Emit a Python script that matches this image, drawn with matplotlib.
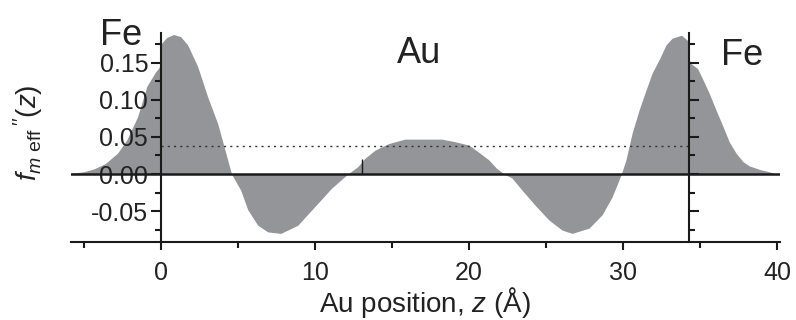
import matplotlib
matplotlib.use("Agg")
import matplotlib.pyplot as plt
from matplotlib.ticker import MultipleLocator

plt.rcParams['font.family'] = ['Liberation Sans', 'DejaVu Sans']
plt.rcParams['mathtext.fontset'] = 'custom'
plt.rcParams['mathtext.rm'] = 'Liberation Sans'
plt.rcParams['mathtext.it'] = 'Liberation Sans:italic'

# effective magnetic scattering profile
z = [-5.8, -5.0, -4.35, -3.6, -2.8, -2.2, -1.5, -0.9, -0.35, -0.05,
     0.05, 0.4, 0.85, 1.3, 1.75, 2.4, 3.05, 3.7, 4.1, 4.6,
     5.2, 5.65, 6.3, 6.95, 7.8, 8.9, 10.0, 11.1, 12.15, 12.8,
     13.25, 13.9, 14.8, 15.85, 16.9, 17.6, 18.25, 19.1, 20.0, 20.6,
     21.3, 21.8, 22.3, 22.8, 23.45, 24.3, 25.2, 26.05, 26.7, 27.8,
     28.65, 29.3, 29.75, 29.9, 30.2, 30.6, 31.05, 31.5, 31.9, 32.4,
     32.8, 33.2, 33.8, 34.2, 34.35, 34.85, 35.2, 35.6, 36.05, 36.5,
     36.9, 37.35, 37.8, 38.2, 38.9, 39.5, 40.0]
f_eff = [0.001, 0.003, 0.0067, 0.014, 0.028, 0.046, 0.077, 0.118, 0.137, 0.145,
         0.176, 0.184, 0.188, 0.185, 0.174, 0.145, 0.104, 0.068, 0.038, 0.0,
         -0.022, -0.048, -0.069, -0.078, -0.080, -0.069, -0.044, -0.019, 0.0, 0.010,
         0.021, 0.032, 0.041, 0.047, 0.047, 0.047, 0.047, 0.0435, 0.039, 0.030,
         0.019, 0.0077, 0.0, -0.0054, -0.0216, -0.042, -0.062, -0.0755, -0.080, -0.073,
         -0.055, -0.031, -0.008, 0.0, 0.019, 0.055, 0.086, 0.113, 0.136, 0.156,
         0.174, 0.183, 0.187, 0.180, 0.150, 0.142, 0.127, 0.109, 0.086, 0.064,
         0.0435, 0.028, 0.0166, 0.011, 0.006, 0.003, 0.0]

fe_au_left = 0.0
au_fe_right = 34.3
avg_level = 0.038
marker_z = 13.1
marker_top = 0.020

fig = plt.figure(figsize=(7.96, 3.2), dpi=100)
ax = fig.add_axes([0.0886, 0.2447, 0.8913, 0.6522])

ax.fill_between(z, f_eff, 0, color='#939598', linewidth=0, zorder=1)
ax.axhline(0, color='#1a1a1a', lw=1.8, zorder=2)
ax.hlines(avg_level, fe_au_left, au_fe_right, colors='#333333', linestyles=(0, (1.5, 3)), lw=1.0, zorder=2)
ax.vlines(marker_z, 0, marker_top, colors='#1a1a1a', lw=1.0, zorder=2)

ax.set_xlim(-5.85, 40.2)
ax.set_ylim(-0.0912, 0.19)

ax.spines['top'].set_visible(False)
ax.spines['left'].set_position(('data', fe_au_left))
ax.spines['right'].set_position(('data', au_fe_right))
for s in ['left', 'right', 'bottom']:
    ax.spines[s].set_linewidth(1.5)
    ax.spines[s].set_color('#1a1a1a')

ax.xaxis.set_major_locator(MultipleLocator(10))
ax.xaxis.set_minor_locator(MultipleLocator(5))
ax.yaxis.set_major_locator(MultipleLocator(0.05))
ax.yaxis.set_minor_locator(MultipleLocator(0.025))
ax.yaxis.set_major_formatter(lambda v, p: f"{v:.2f}")
ax.yaxis.set_ticks_position('both')

ax.tick_params(axis='both', which='both', direction='out', color='#1a1a1a', width=1.5,
               labelsize=18, labelcolor='#222222')
ax.tick_params(axis='x', which='major', length=6, pad=8)
ax.tick_params(axis='x', which='minor', length=4)
ax.tick_params(axis='y', which='major', length=7, pad=2, labelright=False)
ax.tick_params(axis='y', which='minor', length=4)

ax.set_xlabel(r"Au position, $z$ (Å)", fontsize=20, color='#222222', labelpad=0)
fig.text(0.035, 0.584, r"$f_{m\ \mathrm{eff}}\,''(z)$", rotation=90, fontsize=20,
         ha='center', va='center', color='#222222')

ax.text(-3.95, 0.174, "Fe", fontsize=26, color='#222222')
ax.text(16.8, 0.150, "Au", fontsize=26, color='#222222', ha='center')
ax.text(36.4, 0.147, "Fe", fontsize=26, color='#222222')

fig.savefig("out.png", dpi=100)
